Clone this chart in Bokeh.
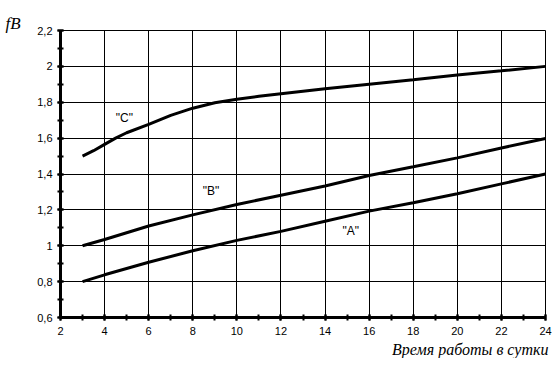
from bokeh.plotting import figure
from bokeh.models import FixedTicker, Label, Title
from bokeh.embed import file_html
from bokeh.resources import INLINE

# ---- data ----
x_c = [3, 3.5, 4, 4.5, 5, 6, 7, 8, 9, 10, 11, 12, 14, 16, 18, 20, 22, 24]
curve_c = [1.50, 1.53, 1.565, 1.60, 1.63, 1.677, 1.727, 1.767, 1.797, 1.817, 1.833, 1.847, 1.875, 1.90, 1.925, 1.952, 1.975, 2.0]
x_ab = [3, 4, 6, 8, 10, 12, 14, 16, 18, 20, 22, 24]
curve_b = [1.0, 1.035, 1.11, 1.172, 1.23, 1.282, 1.333, 1.392, 1.44, 1.49, 1.545, 1.598]
curve_a = [0.8, 0.838, 0.908, 0.972, 1.03, 1.08, 1.137, 1.193, 1.24, 1.29, 1.345, 1.4]

x_ticks = [2, 4, 6, 8, 10, 12, 14, 16, 18, 20, 22, 24]
x_minor = list(range(2, 25))
y_ticks = [0.6, 0.8, 1.0, 1.2, 1.4, 1.6, 1.8, 2.0, 2.2]
y_tick_labels = ["0,6", "0,8", "1", "1,2", "1,4", "1,6", "1,8", "2", "2,2"]
y_minor = [0.6, 0.7, 0.8, 0.9, 1.0, 1.1, 1.2, 1.3, 1.4, 1.5, 1.6, 1.7, 1.8, 1.9, 2.0, 2.1, 2.2]

curve_names = ['"C"', '"B"', '"A"']
name_x = [4.9, 8.83, 15.17]
name_y = [1.71, 1.305, 1.083]

x_title = "Время работы в сутки"
y_title = "fВ"

p = figure(width=552, height=358, x_range=(2, 24), y_range=(0.6, 2.2),
           output_backend="svg", toolbar_location=None,
           min_border_left=60, min_border_right=7, min_border_top=30, min_border_bottom=41)
p.background_fill_color = "white"
p.border_fill_color = "white"
p.outline_line_color = "black"
p.outline_line_width = 1

p.xaxis.ticker = FixedTicker(ticks=x_ticks, minor_ticks=x_minor)
p.yaxis.ticker = FixedTicker(ticks=y_ticks, minor_ticks=y_minor)
p.yaxis.major_label_overrides = {t: l for t, l in zip(y_ticks, y_tick_labels)}

for ax in (p.xaxis[0], p.yaxis[0]):
    ax.axis_line_width = 3
    ax.axis_line_color = "black"
    ax.major_tick_in = 3
    ax.major_tick_out = 3
    ax.minor_tick_in = 3
    ax.minor_tick_out = 3
    ax.major_tick_line_width = 2
    ax.minor_tick_line_width = 2
    ax.major_tick_line_color = "black"
    ax.minor_tick_line_color = "black"
    ax.major_label_text_font = "Liberation Sans"
    ax.major_label_text_font_size = "11px"
    ax.major_label_text_color = "black"
p.xaxis.major_label_standoff = 6
p.yaxis.major_label_standoff = 5

for g in (p.xgrid[0], p.ygrid[0]):
    g.grid_line_color = "black"
    g.grid_line_width = 1
    g.grid_line_alpha = 1

p.line(x_c, curve_c, line_color="black", line_width=3)
p.line(x_ab, curve_b, line_color="black", line_width=3)
p.line(x_ab, curve_a, line_color="black", line_width=3)

for t, xx, yy in zip(curve_names, name_x, name_y):
    p.add_layout(Label(x=xx, y=yy, text=t, text_align="center", text_baseline="middle",
                       text_font="Liberation Sans", text_font_size="12px", text_color="black"))

p.add_layout(Title(text=x_title, align="right", offset=-3, text_font="Liberation Serif",
                   text_font_style="italic", text_font_size="16px", text_color="black",
                   standoff=2), "below")
p.add_layout(Title(text=y_title, align="left", offset=-55, text_font="Liberation Serif",
                   text_font_style="italic", text_font_size="17px", text_color="black",
                   vertical_align="bottom", standoff=-5), "above")

open("out.html", "w").write(file_html(p, INLINE))
